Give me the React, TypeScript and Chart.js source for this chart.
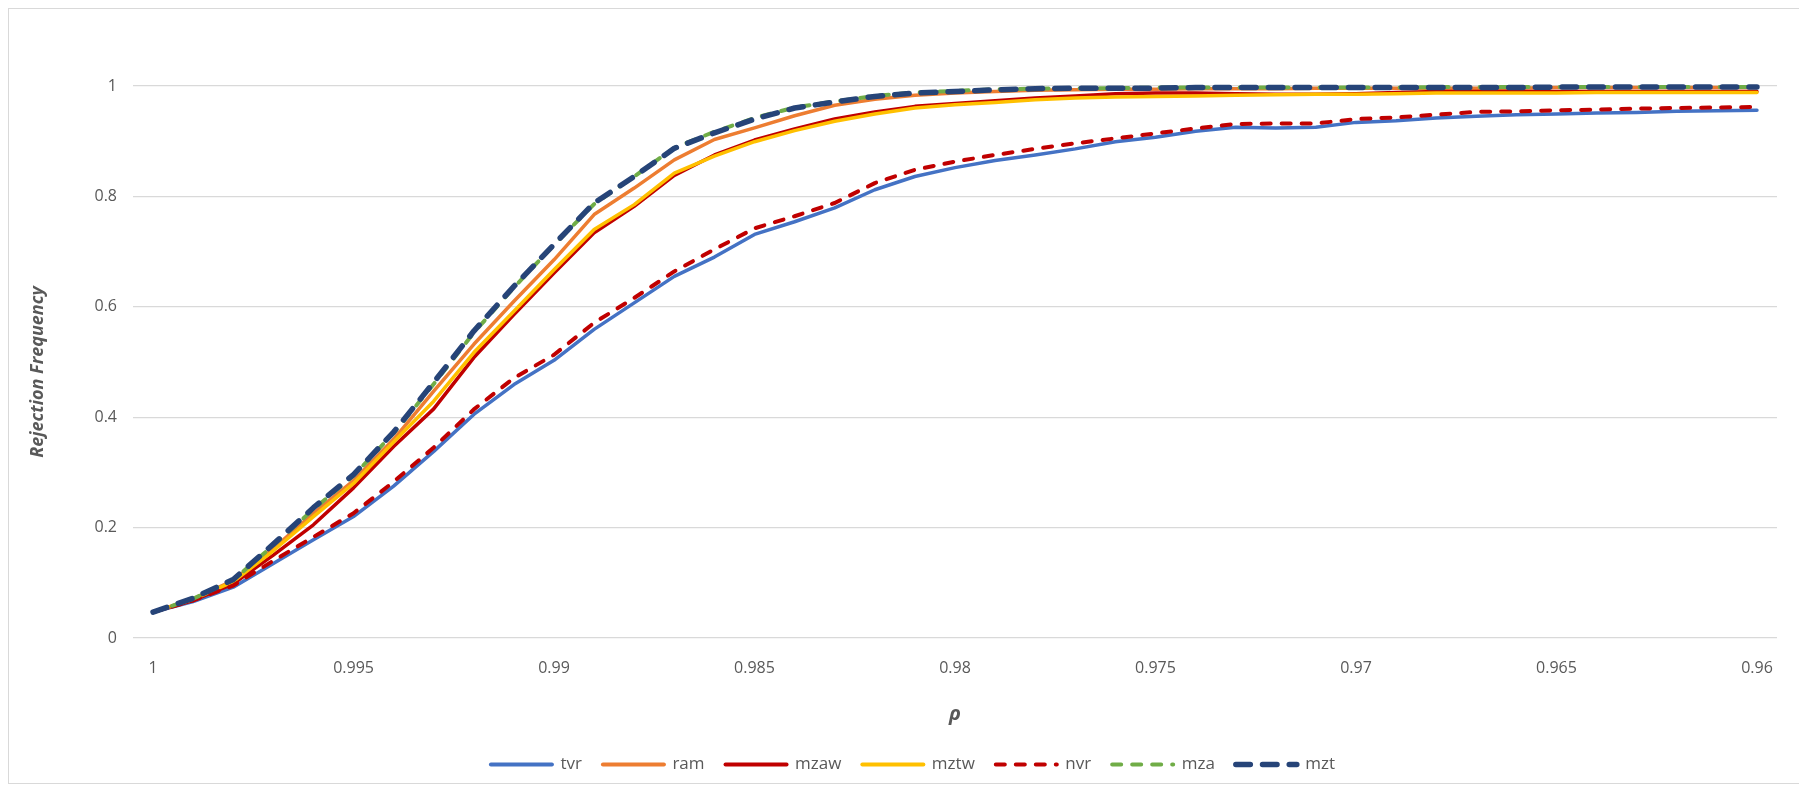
import { useEffect, useRef } from "react";
import { Chart, registerables } from "chart.js";

Chart.register(...registerables);

const rhoLabels = [
  "1", "0.999", "0.998", "0.997", "0.996", "0.995", "0.994", "0.993", "0.992", "0.991",
  "0.99", "0.989", "0.988", "0.987", "0.986", "0.985", "0.984", "0.983", "0.982", "0.981",
  "0.98", "0.979", "0.978", "0.977", "0.976", "0.975", "0.974", "0.973", "0.972", "0.971",
  "0.97", "0.969", "0.968", "0.967", "0.966", "0.965", "0.964", "0.963", "0.962", "0.961",
  "0.96",
];

const shownXTicks = ["1", "0.995", "0.99", "0.985", "0.98", "0.975", "0.97", "0.965", "0.96"];

const tvr = [
  0.047, 0.066, 0.092, 0.135, 0.178, 0.22, 0.275, 0.338, 0.405, 0.459,
  0.503, 0.559, 0.607, 0.655, 0.69, 0.731, 0.754, 0.779, 0.812, 0.836,
  0.852, 0.865, 0.875, 0.886, 0.899, 0.907, 0.918, 0.925, 0.924, 0.925,
  0.934, 0.937, 0.942, 0.945, 0.948, 0.949, 0.951, 0.952, 0.954, 0.955,
  0.956,
];

const ram = [
  0.047, 0.071, 0.104, 0.162, 0.226, 0.285, 0.36, 0.447, 0.532, 0.61,
  0.685, 0.767, 0.815, 0.866, 0.903, 0.924, 0.946, 0.965, 0.976, 0.983,
  0.987, 0.99, 0.992, 0.993, 0.994, 0.994, 0.995, 0.995, 0.995, 0.996,
  0.996, 0.996, 0.996, 0.996, 0.996, 0.997, 0.997, 0.997, 0.997, 0.997,
  0.997,
];

const mzaw = [
  0.047, 0.068, 0.098, 0.15, 0.205, 0.272, 0.347, 0.415, 0.508, 0.586,
  0.661, 0.734, 0.782, 0.838, 0.875, 0.902, 0.922, 0.94, 0.953, 0.963,
  0.968, 0.973, 0.978, 0.982, 0.986, 0.987, 0.987, 0.986, 0.985, 0.985,
  0.986, 0.988, 0.99, 0.99, 0.99, 0.99, 0.99, 0.99, 0.99, 0.99,
  0.99,
];

const mztw = [
  0.047, 0.07, 0.102, 0.158, 0.22, 0.28, 0.355, 0.429, 0.517, 0.592,
  0.667, 0.74, 0.785, 0.842, 0.873, 0.899, 0.919, 0.936, 0.949, 0.96,
  0.966, 0.97, 0.975, 0.978, 0.98, 0.981, 0.982, 0.983, 0.984, 0.985,
  0.985, 0.986, 0.987, 0.987, 0.987, 0.987, 0.988, 0.988, 0.988, 0.988,
  0.988,
];

const nvr = [
  0.047, 0.068, 0.095, 0.14, 0.183, 0.226, 0.283, 0.345, 0.414, 0.471,
  0.513, 0.571, 0.616, 0.664, 0.704, 0.742, 0.764, 0.788, 0.824, 0.848,
  0.863, 0.875, 0.886, 0.896, 0.905, 0.914, 0.923, 0.931, 0.932, 0.932,
  0.94, 0.943, 0.948, 0.953, 0.954, 0.956, 0.957, 0.959, 0.96, 0.961,
  0.962,
];

const mza = [
  0.047, 0.071, 0.105, 0.168, 0.233, 0.294, 0.371, 0.46, 0.553, 0.635,
  0.712, 0.786, 0.836, 0.888, 0.917, 0.942, 0.961, 0.972, 0.982, 0.988,
  0.991, 0.994, 0.995, 0.996, 0.996, 0.997, 0.997, 0.997, 0.997, 0.997,
  0.997, 0.997, 0.998, 0.998, 0.998, 0.998, 0.998, 0.998, 0.998, 0.998,
  0.998,
];

const mzt = [
  0.047, 0.072, 0.106, 0.17, 0.236, 0.296, 0.373, 0.463, 0.556, 0.637,
  0.713, 0.788, 0.836, 0.887, 0.915, 0.94, 0.96, 0.971, 0.981, 0.987,
  0.99, 0.993, 0.995, 0.996, 0.996, 0.996, 0.997, 0.997, 0.997, 0.997,
  0.997, 0.997, 0.997, 0.997, 0.997, 0.998, 0.998, 0.998, 0.998, 0.998,
  0.998,
];

const FONT = "'Open Sans', 'Noto Sans', sans-serif";
const TEXT = "#595959";
const Y_TITLE = "Rejection Frequency";

const yTitlePlugin = {
  id: "yTitle",
  afterDraw(chart: any) {
    const ctx = chart.ctx;
    ctx.save();
    ctx.translate(29, 363);
    ctx.rotate(-Math.PI / 2);
    ctx.fillStyle = TEXT;
    ctx.font = `italic bold 18px ${FONT}`;
    ctx.textAlign = "center";
    ctx.textBaseline = "middle";
    ctx.fillText(Y_TITLE, 0, 0);
    ctx.restore();
  },
};

export default function App() {
  const ref = useRef<HTMLCanvasElement | null>(null);

  useEffect(() => {
    if (!ref.current) return;
    const mk = (
      label: string,
      data: number[],
      color: string,
      width: number,
      order: number,
      dash: number[] = []
    ) => ({
      label,
      data,
      borderColor: color,
      backgroundColor: color,
      borderWidth: width,
      borderDash: dash,
      borderCapStyle: "round",
      borderJoinStyle: "round",
      pointRadius: 0,
      pointHoverRadius: 0,
      tension: 0,
      fill: false,
      order,
    });

    const chart = new Chart(ref.current, {
      type: "line",
      data: {
        labels: rhoLabels,
        datasets: [
          mk("tvr", tvr, "#4472C4", 3.5, 6),
          mk("ram", ram, "#ED7D31", 3.5, 5),
          mk("mzaw", mzaw, "#C00000", 3.5, 4),
          mk("mztw", mztw, "#FFC000", 3.5, 3),
          mk("nvr", nvr, "#C00000", 4, 2, [9, 11]),
          mk("mza", mza, "#70AD47", 4, 1, [9, 11]),
          mk("mzt", mzt, "#264478", 5.5, 0, [14.5, 12.2]),
        ] as any,
      },
      plugins: [yTitlePlugin],
      options: {
        animation: false,
        responsive: false,
        layout: { padding: { left: 40, right: 22, top: 6.5, bottom: 0 } },
        plugins: {
          tooltip: { enabled: false },
          legend: {
            position: "bottom",
            labels: {
              usePointStyle: true,
              pointStyle: "line",
              pointStyleWidth: 61,
              boxHeight: 17,
              padding: 21,
              color: TEXT,
              font: { family: FONT, size: 17 },
              sort: (a: any, b: any) => a.datasetIndex - b.datasetIndex,
              generateLabels: (c: any) => {
                const items = Chart.defaults.plugins.legend.labels.generateLabels(c);
                items.forEach((it: any) => {
                  const ds = c.data.datasets[it.datasetIndex];
                  it.lineDash = ds.borderDash;
                  it.lineCap = "round";
                  it.lineWidth = Math.max(4, ds.borderWidth);
                  it.strokeStyle = ds.borderColor;
                });
                return items;
              },
            },
          },
        },
        scales: {
          x: {
            type: "category",
            offset: true,
            grid: { display: false, drawTicks: false },
            border: { display: false },
            ticks: {
              autoSkip: false,
              maxRotation: 0,
              minRotation: 0,
              padding: 20.5,
              color: TEXT,
              font: { family: FONT, size: 16 },
              callback: function (this: any, value: any) {
                const l = this.getLabelForValue(value);
                return shownXTicks.includes(l) ? l : "";
              },
            },
            title: {
              display: true,
              text: "ρ",
              color: TEXT,
              font: { family: FONT, size: 20, weight: "bold", style: "italic" },
              padding: { top: 0, bottom: 9 },
            },
            afterFit: (s: any) => {
              s.height = 97;
            },
          },
          y: {
            min: 0,
            max: 1.093,
            grid: { color: "#d9d9d9", lineWidth: 1.2, drawTicks: false },
            border: { display: false },
            ticks: {
              stepSize: 0.2,
              padding: 16,
              color: TEXT,
              font: { family: FONT, size: 16 },
              callback: (v: any) => String(Math.round(Number(v) * 10) / 10),
            },
            afterBuildTicks: (s: any) => {
              s.ticks = s.ticks.filter((t: any) => t.value <= 1.0001);
            },
            title: { display: false },
            afterFit: (s: any) => {
              s.width = 84;
            },
          },
        },
      } as any,
    });
    return () => chart.destroy();
  }, []);

  return (
    <div style={{ width: 1790, height: 774, border: "1px solid #d9d9d9", background: "#fff" }}>
      <canvas ref={ref} width={1790} height={774} style={{ display: "block" }} />
    </div>
  );
}
